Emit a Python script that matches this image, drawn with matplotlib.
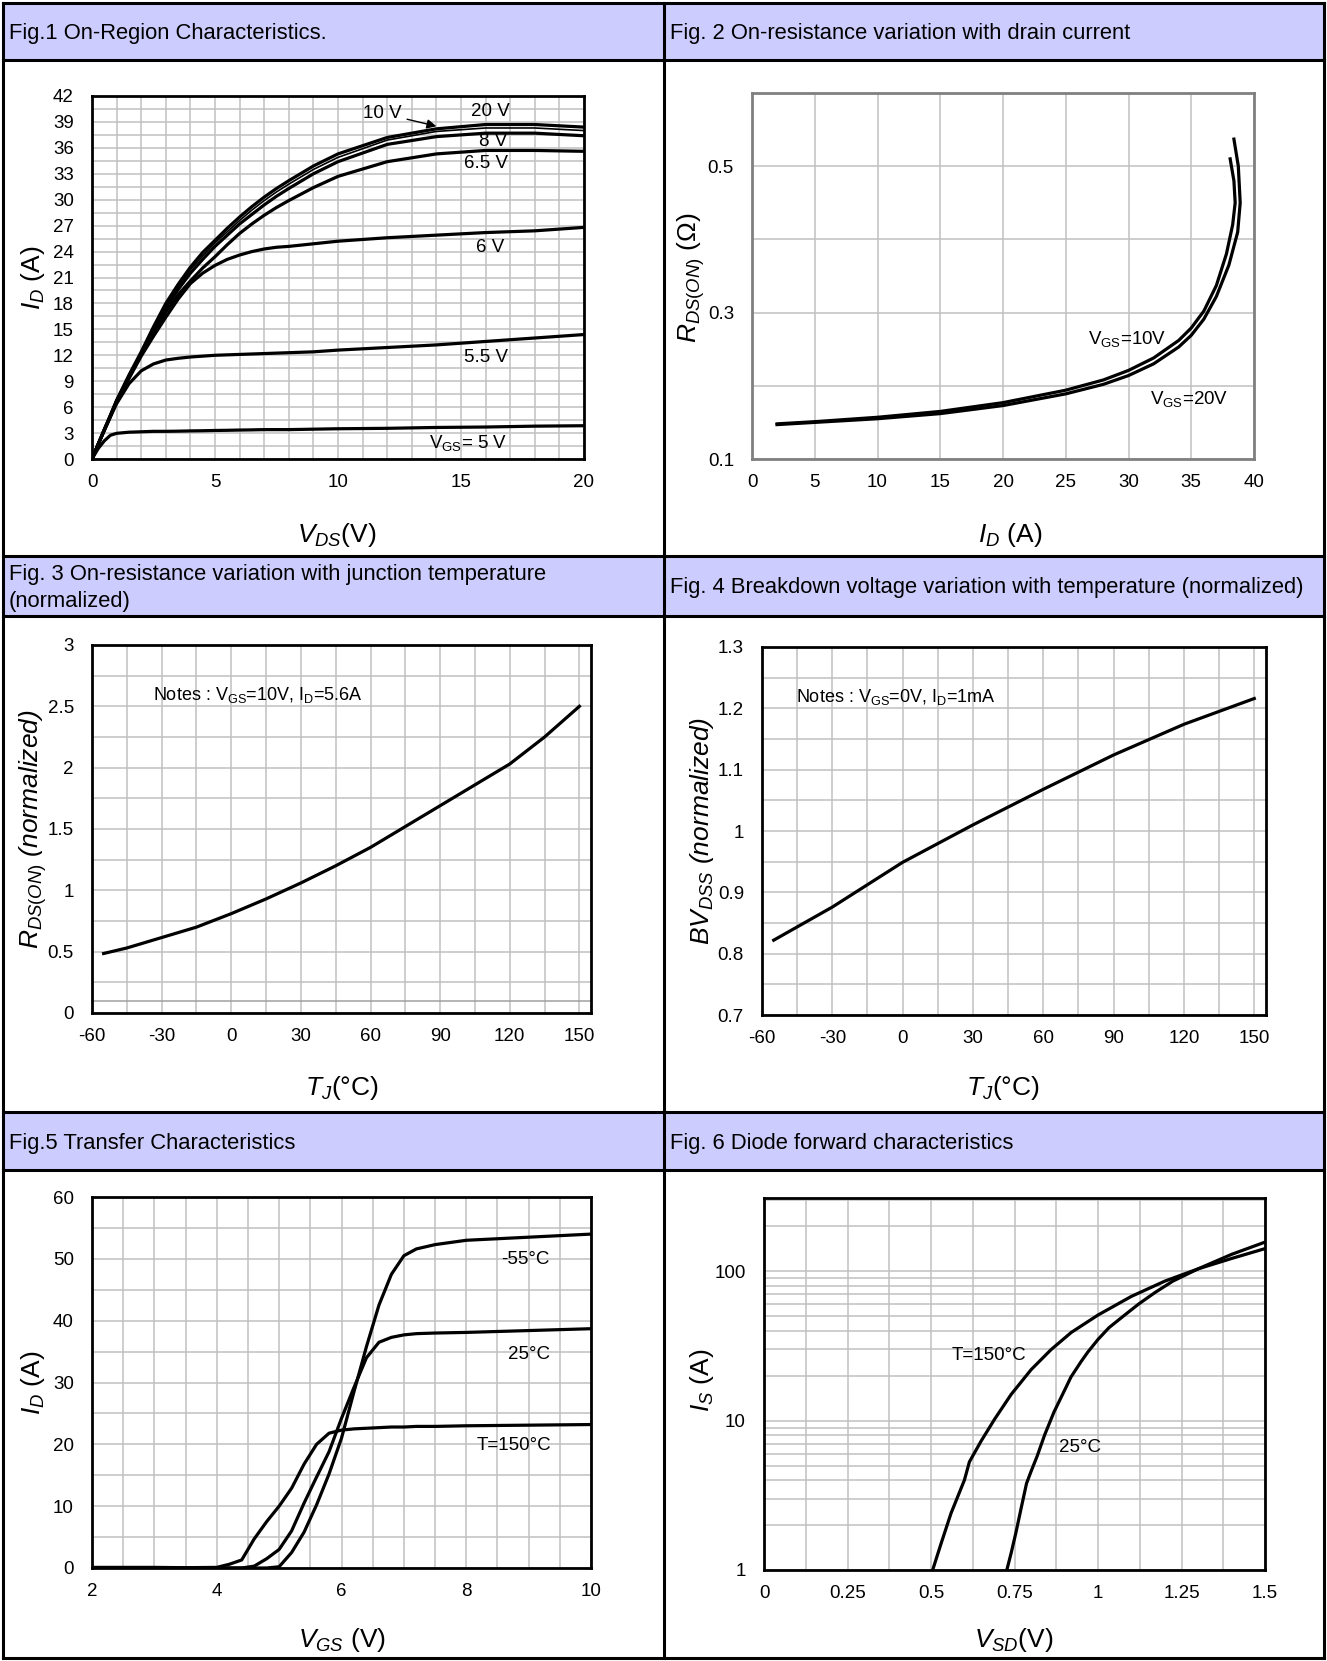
import matplotlib
matplotlib.use("Agg")
import matplotlib.pyplot as plt
from matplotlib.patches import Rectangle
from matplotlib.ticker import MultipleLocator, FixedLocator, FixedFormatter, NullFormatter, LogLocator

plt.rcParams["font.family"] = ["Liberation Sans", "DejaVu Sans"]
plt.rcParams["mathtext.fontset"] = "custom"
plt.rcParams["mathtext.rm"] = "Liberation Sans"
plt.rcParams["mathtext.it"] = "Liberation Sans:italic"
plt.rcParams["mathtext.bf"] = "Liberation Sans:bold"
plt.rcParams["axes.unicode_minus"] = False

# ---- Fig.1 On-region characteristics (I_D vs V_DS per V_GS)
vds = [0, 0.25, 0.5, 0.75, 1, 1.5, 2, 2.5, 3, 3.5, 4, 4.5, 5, 5.5, 6, 6.5, 7, 7.5, 8, 9, 10, 12, 14, 16, 18, 20]
id_20v = [0, 1.7, 3.4, 5.1, 6.8, 9.7, 12.4, 15.3, 18.0, 20.2, 22.2, 23.9, 25.3, 26.7, 28.0, 29.2, 30.3, 31.3, 32.2, 33.9, 35.3, 37.2, 38.2, 38.7, 38.7, 38.4]
id_10v = [0, 1.7, 3.4, 5.1, 6.8, 9.6, 12.3, 15.1, 17.8, 19.9, 21.9, 23.5, 25.0, 26.3, 27.6, 28.8, 29.9, 30.9, 31.8, 33.5, 34.9, 36.9, 37.9, 38.3, 38.3, 38.0]
id_8v = [0, 1.7, 3.4, 5.0, 6.7, 9.5, 12.2, 14.9, 17.5, 19.6, 21.5, 23.1, 24.6, 25.9, 27.2, 28.3, 29.4, 30.4, 31.3, 33.0, 34.4, 36.4, 37.3, 37.7, 37.7, 37.4]
id_65v = [0, 1.7, 3.4, 5.0, 6.7, 9.4, 12.1, 14.6, 17.0, 19.0, 20.6, 22.1, 23.4, 24.8, 26.1, 27.2, 28.2, 29.1, 29.9, 31.4, 32.7, 34.4, 35.3, 35.7, 35.7, 35.6]
id_6v = [0, 1.7, 3.3, 4.9, 6.6, 9.3, 11.9, 14.2, 16.4, 18.5, 20.3, 21.5, 22.4, 23.1, 23.6, 24.0, 24.3, 24.5, 24.6, 24.9, 25.2, 25.6, 25.9, 26.2, 26.4, 26.8]
id_55v = [0, 1.7, 3.3, 4.9, 6.4, 8.7, 10.2, 11.0, 11.45, 11.65, 11.8, 11.9, 12.0, 12.05, 12.1, 12.15, 12.2, 12.25, 12.3, 12.4, 12.6, 12.9, 13.2, 13.6, 14.0, 14.4]
id_5v = [0, 1.2, 2.1, 2.75, 2.97, 3.1, 3.15, 3.2, 3.2, 3.22, 3.25, 3.27, 3.3, 3.32, 3.35, 3.37, 3.4, 3.4, 3.4, 3.45, 3.5, 3.55, 3.65, 3.7, 3.8, 3.85]
fig1_curves = [id_20v, id_8v, id_65v, id_6v, id_55v, id_5v]

# ---- Fig.2 R_DS(on) vs I_D
id_r10 = [2, 5, 10, 15, 20, 25, 28, 30, 32, 34, 35, 36, 37, 37.8, 38.3, 38.5, 38.4, 38.1]
r_10v = [0.148, 0.151, 0.157, 0.165, 0.177, 0.194, 0.208, 0.221, 0.238, 0.262, 0.279, 0.302, 0.337, 0.38, 0.42, 0.45, 0.48, 0.51]
id_r20 = [2, 5, 10, 15, 20, 25, 28, 30, 32, 34, 35, 36, 37, 38, 38.7, 38.9, 38.75, 38.4]
r_20v = [0.147, 0.150, 0.155, 0.162, 0.173, 0.189, 0.202, 0.214, 0.230, 0.253, 0.269, 0.291, 0.322, 0.365, 0.41, 0.45, 0.50, 0.537]

# ---- Fig.3 normalized R_DS(on) vs T_J
tj3 = [-55, -45, -30, -15, 0, 15, 30, 45, 60, 75, 90, 105, 120, 135, 150]
rn3 = [0.485, 0.53, 0.615, 0.70, 0.81, 0.93, 1.06, 1.20, 1.35, 1.52, 1.69, 1.86, 2.03, 2.25, 2.50]

# ---- Fig.4 normalized BV_DSS vs T_J
tj4 = [-55, -30, 0, 30, 60, 90, 120, 150]
bv4 = [0.822, 0.876, 0.949, 1.010, 1.068, 1.124, 1.174, 1.216]

# ---- Fig.5 transfer characteristics
vgs = [2, 3, 3.5, 4, 4.2, 4.4, 4.6, 4.8, 5.0, 5.2, 5.4, 5.6, 5.8, 6.0, 6.2, 6.4, 6.6, 6.8, 7.0, 7.2, 7.5, 8, 9, 10]
id_m55 = [0, 0, 0, 0, 0, 0, 0, 0, 0.2, 2.5, 5.8, 10.2, 15.2, 21, 28.5, 35.8, 42.5, 47.5, 50.5, 51.6, 52.3, 53, 53.5, 54.0]
id_25 = [0, 0, 0, 0, 0, 0, 0.3, 1.5, 3.0, 6.0, 10.5, 14.7, 18.8, 24.2, 29.2, 34.0, 36.5, 37.3, 37.7, 37.9, 38.0, 38.1, 38.4, 38.7]
id_150 = [0.1, 0.1, 0.05, 0.1, 0.6, 1.3, 4.7, 7.5, 10, 12.9, 16.8, 20, 21.8, 22.3, 22.5, 22.6, 22.7, 22.8, 22.8, 22.9, 22.9, 23.0, 23.1, 23.2]

# ---- Fig.6 diode forward characteristics
vsd_150 = [0.505, 0.53, 0.56, 0.6, 0.615, 0.65, 0.69, 0.74, 0.8, 0.86, 0.92, 1.0, 1.1, 1.2, 1.3, 1.4, 1.5]
is_150 = [1, 1.5, 2.4, 4.0, 5.3, 7.3, 10.2, 15, 22, 30, 39, 51, 68, 86, 104, 122, 142]
vsd_25 = [0.727, 0.74, 0.754, 0.77, 0.786, 0.8, 0.818, 0.84, 0.868, 0.9, 0.919, 0.95, 0.97, 1.0, 1.033, 1.08, 1.122, 1.17, 1.224, 1.3, 1.4, 1.5]
is_25 = [1, 1.3, 1.77, 2.6, 3.8, 4.6, 5.8, 8, 11.4, 16, 19.6, 25, 28.9, 35, 42, 51, 60.5, 72, 86, 104, 130, 157]

titles = [
    "Fig.1 On-Region Characteristics.",
    "Fig. 2 On-resistance variation with drain current",
    "Fig. 3 On-resistance variation with junction temperature\n(normalized)",
    "Fig. 4 Breakdown voltage variation with temperature (normalized)",
    "Fig.5 Transfer Characteristics",
    "Fig. 6 Diode forward characteristics",
]

W, H = 1327, 1661
fig = plt.figure(figsize=(W / 100, H / 100), dpi=100)
bg = fig.add_axes([0, 0, 1, 1])
bg.set_xlim(0, W)
bg.set_ylim(H, 0)
bg.axis("off")

GRID = "#c0c0c0"
HEAD = "#ccccff"
LW = 2.3
TICK_FS = 13.5
LAB_FS = 19
ANN_FS = 13.5

# panel frames: header bands (top, bottom) per row
rows = [(3, 60, 556), (556, 616, 1112), (1112, 1170, 1658)]
for top, hb, bot in rows:
    for x0, x1 in [(3, 664), (664, 1324)]:
        bg.add_patch(Rectangle((x0, top), x1 - x0, hb - top, facecolor=HEAD, edgecolor="none", zorder=1))
    bg.plot([3, 1324], [top, top], color="black", lw=2.2, zorder=3)
    bg.plot([3, 1324], [hb, hb], color="black", lw=2.2, zorder=3)
bg.plot([3, 1324], [1658, 1658], color="black", lw=2.2, zorder=3)
for x in [3, 664, 1324]:
    bg.plot([x, x], [3, 1658], color="black", lw=2.2, zorder=3)

for i, t in enumerate(titles):
    top, hb, _ = rows[i // 2]
    x = 9 if i % 2 == 0 else 670
    bg.text(x, (top + hb) / 2 + 2, t, fontsize=15.8, ha="left", va="center", linespacing=1.4, zorder=4)


def make_axes(l, t, r, b):
    ax = fig.add_axes([l / W, 1 - b / H, (r - l) / W, (b - t) / H])
    ax.set_axisbelow(True)
    ax.tick_params(which="both", length=0, labelsize=TICK_FS)
    ax.tick_params(axis="y", pad=13)
    ax.tick_params(axis="x", pad=11)
    for s in ax.spines.values():
        s.set_linewidth(2.0)
        s.set_color("black")
    ax.grid(which="both", color=GRID, lw=1.1)
    return ax


def labels(xl, yl, xpos, ypos, style="normal"):
    bg.text(xpos[0], xpos[1], xl, fontsize=LAB_FS, ha="center", va="center")
    bg.text(ypos[0], ypos[1], yl, fontsize=LAB_FS, ha="center", va="center", rotation=90, style=style)


# Fig.1
ax1 = make_axes(92, 96, 584, 459)
for c in fig1_curves:
    ax1.plot(vds, c, color="black", lw=LW, solid_capstyle="butt")
ax1.plot(vds, id_10v, color="black", lw=1.2)
ax1.set_xlim(0, 20)
ax1.set_ylim(0, 42)
ax1.xaxis.set_major_locator(MultipleLocator(5))
ax1.xaxis.set_minor_locator(MultipleLocator(1))
ax1.yaxis.set_major_locator(MultipleLocator(3))
ax1.yaxis.set_minor_locator(MultipleLocator(1.5))
ax1.annotate("10 V", xy=(14.0, 38.5), xytext=(11.8, 40.0), fontsize=ANN_FS, ha="center", va="center",
             arrowprops=dict(arrowstyle="-|>", color="black", lw=1.0, mutation_scale=14, shrinkA=2, shrinkB=0))
for txt, x, y in [("20 V", 16.2, 40.2), ("8 V", 16.3, 36.7), ("6.5 V", 16.0, 34.2),
                  ("6 V", 16.2, 24.5), ("5.5 V", 16.0, 11.8), (r"V$_{\mathrm{GS}}$= 5 V", 15.3, 1.9)]:
    ax1.text(x, y, txt, fontsize=ANN_FS, ha="center", va="center")
labels(r"$V_{DS}$(V)", r"$I_D$ (A)", (337, 535), (33, 278))

# Fig.2
ax2 = make_axes(752, 93, 1254, 459)
for s in ax2.spines.values():
    s.set_color("#808080")
ax2.plot(id_r10, r_10v, color="black", lw=LW)
ax2.plot(id_r20, r_20v, color="black", lw=LW)
ax2.set_xlim(0, 40)
ax2.set_ylim(0.1, 0.6)
ax2.xaxis.set_major_locator(MultipleLocator(5))
ax2.yaxis.set_major_locator(FixedLocator([0.1, 0.3, 0.5]))
ax2.yaxis.set_major_formatter(FixedFormatter(["0.1", "0.3", "0.5"]))
ax2.yaxis.set_minor_locator(MultipleLocator(0.1))
ax2.yaxis.set_minor_formatter(NullFormatter())
ax2.text(29.9, 0.264, r"V$_{\mathrm{GS}}$=10V", fontsize=ANN_FS, ha="center", va="center")
ax2.text(34.8, 0.182, r"V$_{\mathrm{GS}}$=20V", fontsize=ANN_FS, ha="center", va="center")
labels(r"$I_D$ (A)", r"$R_{\mathit{DS(ON)}}$ (Ω)", (1010, 535), (691, 278))

# Fig.3
ax3 = make_axes(92, 645, 591, 1013)
ax3.axhline(0.1, color="#a0a0a0", lw=1.1, zorder=1)
ax3.plot(tj3, rn3, color="black", lw=LW)
ax3.set_xlim(-60, 155)
ax3.set_ylim(0, 3)
ax3.xaxis.set_major_locator(FixedLocator(list(range(-60, 151, 30))))
ax3.xaxis.set_minor_locator(MultipleLocator(15))
ax3.yaxis.set_major_locator(FixedLocator([0, 0.5, 1, 1.5, 2, 2.5, 3]))
ax3.yaxis.set_major_formatter(FixedFormatter(["0", "0.5", "1", "1.5", "2", "2.5", "3"]))
ax3.yaxis.set_minor_locator(MultipleLocator(0.25))
ax3.text(-33.6, 2.59, r"Notes : V$_{\mathrm{GS}}$=10V, I$_{\mathrm{D}}$=5.6A", fontsize=13, ha="left", va="center")
labels(r"$T_J$(°C)", r"$R_{\mathit{DS(ON)}}$ (normalized)", (342, 1088), (33, 829), style="italic")

# Fig.4
ax4 = make_axes(762, 647, 1266, 1015)
ax4.plot(tj4, bv4, color="black", lw=LW)
ax4.set_xlim(-60, 155)
ax4.set_ylim(0.7, 1.3)
ax4.xaxis.set_major_locator(FixedLocator(list(range(-60, 151, 30))))
ax4.xaxis.set_minor_locator(MultipleLocator(15))
ax4.yaxis.set_major_locator(FixedLocator([0.7, 0.8, 0.9, 1.0, 1.1, 1.2, 1.3]))
ax4.yaxis.set_major_formatter(FixedFormatter(["0.7", "0.8", "0.9", "1", "1.1", "1.2", "1.3"]))
ax4.yaxis.set_minor_locator(MultipleLocator(0.05))
ax4.text(-45.3, 1.218, r"Notes : V$_{\mathrm{GS}}$=0V, I$_{\mathrm{D}}$=1mA", fontsize=13, ha="left", va="center")
labels(r"$T_J$(°C)", r"$BV_{DSS}$ (normalized)", (1003, 1088), (702, 831), style="italic")

# Fig.5
ax5 = make_axes(92, 1197, 591, 1568)
for c in [id_m55, id_25, id_150]:
    ax5.plot(vgs, c, color="black", lw=LW)
ax5.set_xlim(2, 10)
ax5.set_ylim(0, 60)
ax5.xaxis.set_major_locator(MultipleLocator(2))
ax5.xaxis.set_minor_locator(MultipleLocator(0.5))
ax5.yaxis.set_major_locator(MultipleLocator(10))
ax5.yaxis.set_minor_locator(MultipleLocator(5))
ax5.text(8.95, 49.9, "-55°C", fontsize=ANN_FS, ha="center", va="center")
ax5.text(9.0, 34.5, "25°C", fontsize=ANN_FS, ha="center", va="center")
ax5.text(8.76, 19.8, "T=150°C", fontsize=ANN_FS, ha="center", va="center")
labels(r"$V_{GS}$ (V)", r"$I_D$ (A)", (342, 1640), (33, 1383))

# Fig.6
ax6 = make_axes(764, 1198, 1265, 1570)
ax6.set_yscale("log")
ax6.plot(vsd_150, is_150, color="black", lw=LW)
ax6.plot(vsd_25, is_25, color="black", lw=LW)
ax6.set_xlim(0, 1.5)
ax6.set_ylim(1, 310)
ax6.xaxis.set_major_locator(FixedLocator([0, 0.25, 0.5, 0.75, 1, 1.25, 1.5]))
ax6.xaxis.set_major_formatter(FixedFormatter(["0", "0.25", "0.5", "0.75", "1", "1.25", "1.5"]))
ax6.xaxis.set_minor_locator(MultipleLocator(0.125))
ax6.yaxis.set_major_locator(FixedLocator([1, 10, 100]))
ax6.yaxis.set_major_formatter(FixedFormatter(["1", "10", "100"]))
ax6.yaxis.set_minor_locator(LogLocator(base=10, subs=range(2, 10)))
ax6.yaxis.set_minor_formatter(NullFormatter())
ax6.text(0.672, 27.4, "T=150°C", fontsize=ANN_FS, ha="center", va="center")
ax6.text(0.945, 6.6, "25°C", fontsize=ANN_FS, ha="center", va="center")
labels(r"$V_{SD}$(V)", r"$I_S$ (A)", (1014, 1640), (702, 1380))

fig.savefig("out.png", dpi=100)
